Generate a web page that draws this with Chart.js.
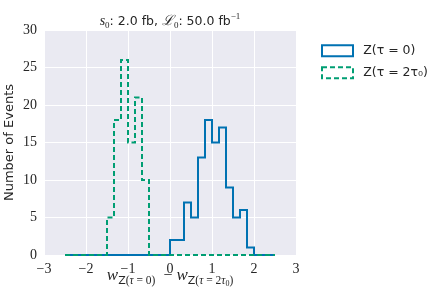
<!DOCTYPE html>
<html>
<head>
<meta charset="utf-8">
<script src="https://cdn.jsdelivr.net/npm/chart.js@4.4.1/dist/chart.umd.min.js"></script>
<style>
  html, body { margin: 0; padding: 0; background: #fff; }
  #wrap { width: 436px; height: 300px; }
</style>
</head>
<body>
<div id="wrap"><canvas id="chart"></canvas></div>
<script>
// histogram: 30 bins of width 1/6 from -2.5 to 2.5
const binStart = -2.5;
const binWidth = 1 / 6;
const seriesLabels = ["Z(τ = 0)", "Z(τ = 2τ₀)"];
const countsTau0 = [0, 0, 0, 0, 0, 0, 0, 0, 0, 0, 0, 0, 0, 0, 0,
                    2, 2, 7, 5, 13, 18, 15, 17, 9, 5, 6, 1, 0, 0, 0];
const countsTau2 = [0, 0, 0, 0, 0, 0, 5, 18, 26, 15, 21, 10, 0, 0, 0,
                    0, 0, 0, 0, 0, 0, 0, 0, 0, 0, 0, 0, 0, 0, 0];
const xTicks = [-3, -2, -1, 0, 1, 2, 3];
const yTicks = [0, 5, 10, 15, 20, 25, 30];

const BLUE = "#0072B2";
const GREEN = "#009E73";
const TEXT = "#262626";
const SERIF = "'Liberation Serif', 'DejaVu Serif', serif";
const SANS = "'DejaVu Sans', sans-serif";

// left edge of each bin carries its count, plus the closing right edge
function stepPoints(counts) {
  const pts = counts.map((c, i) => ({ x: binStart + i * binWidth, y: c }));
  pts.push({ x: binStart + counts.length * binWidth, y: counts[counts.length - 1] });
  return pts;
}

// draws a run of text pieces (with sub/superscripts) centred on cx
function drawRich(ctx, parts, cx, y) {
  let total = 0;
  parts.forEach(p => { ctx.font = p.font; total += ctx.measureText(p.t).width; });
  let x = cx - total / 2;
  ctx.textBaseline = "alphabetic";
  ctx.textAlign = "left";
  parts.forEach(p => {
    ctx.font = p.font;
    ctx.fillText(p.t, x, y + (p.dy || 0));
    x += ctx.measureText(p.t).width;
  });
}

const areaBg = {
  id: "areaBg",
  beforeDraw(chart) {
    const { ctx, chartArea: a } = chart;
    ctx.save();
    ctx.fillStyle = "#EAEAF2";
    ctx.fillRect(a.left, a.top, a.right - a.left, a.bottom - a.top);
    ctx.restore();
  }
};

// nudge the legend away from the axes, like matplotlib's bbox_to_anchor
const legendShift = {
  id: "legendShift",
  afterLayout(chart) {
    const lg = chart.legend;
    if (!lg) return;
    const w = lg.width, h = lg.height;
    lg.left = 312.5;
    lg.right = lg.left + w;
    lg.top = 35;
    lg.bottom = lg.top + h;
  }
};

const richLabels = {
  id: "richLabels",
  afterDraw(chart) {
    const { ctx, chartArea: a } = chart;
    const cx = (a.left + a.right) / 2;
    ctx.save();
    ctx.fillStyle = TEXT;
    const big = "12.5px " + SANS, it = "italic 14px " + SERIF, sub = "9px " + SERIF;
    drawRich(ctx, [
      { t: "s", font: it },
      { t: "0", font: sub, dy: 3 },
      { t: ": 2.0 fb, ", font: big },
      { t: "ℒ", font: it },
      { t: "0", font: sub, dy: 3 },
      { t: ": 50.0 fb", font: big },
      { t: "−1", font: sub, dy: -6 }
    ], cx, 25);
    const w = "italic 17px " + SERIF, s = "11.5px " + SERIF, si = "italic 11.5px " + SERIF,
          sz = "11px " + SANS, ss = "8px " + SERIF;
    drawRich(ctx, [
      { t: "w", font: w },
      { t: "Z", font: sz, dy: 4 },
      { t: "(", font: s, dy: 4 },
      { t: "τ", font: si, dy: 4 },
      { t: " = 0)", font: s, dy: 4 },
      { t: "  − ", font: "16px " + SERIF },
      { t: "w", font: w },
      { t: "Z", font: sz, dy: 4 },
      { t: "(", font: s, dy: 4 },
      { t: "τ", font: si, dy: 4 },
      { t: " = 2", font: s, dy: 4 },
      { t: "τ", font: si, dy: 4 },
      { t: "0", font: ss, dy: 6 },
      { t: ")", font: s, dy: 4 }
    ], cx, 280);
    ctx.restore();
  }
};

new Chart(document.getElementById("chart"), {
  type: "line",
  data: {
    datasets: [
      {
        label: seriesLabels[0],
        data: stepPoints(countsTau0),
        borderColor: BLUE,
        backgroundColor: "rgba(255,255,255,0)",
        borderWidth: 2,
        stepped: "before",
        pointRadius: 0,
        fill: false,
        clip: false,
        order: 1
      },
      {
        label: seriesLabels[1],
        data: stepPoints(countsTau2),
        borderColor: GREEN,
        backgroundColor: "rgba(255,255,255,0)",
        borderWidth: 2,
        borderDash: [5, 3],
        stepped: "before",
        pointRadius: 0,
        fill: false,
        clip: false,
        order: 0
      }
    ]
  },
  options: {
    responsive: true,
    maintainAspectRatio: false,
    animation: false,
    devicePixelRatio: 1,
    layout: { padding: { top: 30, right: 20, left: 0, bottom: 0 } },
    scales: {
      x: {
        type: "linear",
        min: xTicks[0],
        max: xTicks[xTicks.length - 1],
        afterBuildTicks: s => { s.ticks = xTicks.map(v => ({ value: v })); },
        afterFit: s => { s.height = 45; },
        grid: { color: "#ffffff", lineWidth: 1, drawTicks: false },
        border: { display: false },
        ticks: {
          padding: 6,
          color: TEXT,
          font: { family: SERIF, size: 14 },
          callback: v => String(v).replace("-", "−")
        }
      },
      y: {
        min: yTicks[0],
        max: yTicks[yTicks.length - 1],
        afterBuildTicks: s => { s.ticks = yTicks.map(v => ({ value: v })); },
        afterFit: s => { s.width = 44; },
        grid: { color: "#ffffff", lineWidth: 1, drawTicks: false },
        border: { display: false },
        title: {
          display: true,
          text: "Number of Events",
          color: TEXT,
          font: { family: SANS, size: 13 },
          padding: 2
        },
        ticks: {
          padding: 7,
          color: TEXT,
          font: { family: SERIF, size: 14 }
        }
      }
    },
    plugins: {
      title: { display: false },
      tooltip: { enabled: false },
      legend: {
        position: "right",
        align: "start",
        maxWidth: 120,
        labels: {
          boxWidth: 31,
          boxHeight: 11,
          padding: 9.5,
          color: TEXT,
          font: { family: SANS, size: 12.5 },
          sort: (a, b) => a.datasetIndex - b.datasetIndex,
          generateLabels: chart =>
            Chart.defaults.plugins.legend.labels.generateLabels(chart)
              .map(item => ({ ...item, text: " " + item.text }))
        }
      }
    }
  },
  plugins: [areaBg, legendShift, richLabels]
});
</script>
</body>
</html>
